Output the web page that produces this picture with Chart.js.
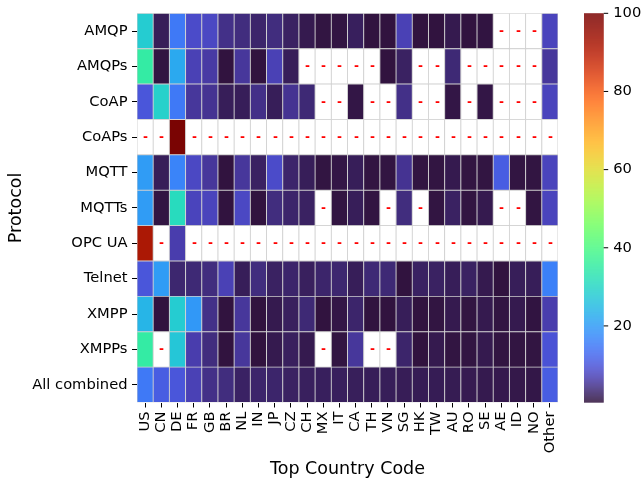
<!DOCTYPE html>
<html lang="en">
<head>
<meta charset="UTF-8">
<title>Protocol by country heatmap</title>
<style>
  body { margin: 0; background: #fff; }
  #wrap { width: 643px; height: 484px; }
</style>
<script src="https://cdn.jsdelivr.net/npm/chart.js"></script>
</head>
<body>
<div id="wrap"><canvas id="heat" width="643" height="484"></canvas></div>
<script>
// categories
const countries = ['US', 'CN', 'DE', 'FR', 'GB', 'BR', 'NL', 'IN', 'JP', 'CZ', 'CH', 'MX', 'IT',
                   'CA', 'TH', 'VN', 'SG', 'HK', 'TW', 'AU', 'RO', 'SE', 'AE', 'ID', 'NO', 'Other'];
const protocols = ['AMQP', 'AMQPs', 'CoAP', 'CoAPs', 'MQTT', 'MQTTs', 'OPC UA', 'Telnet', 'XMPP', 'XMPPs', 'All combined'];

// share per protocol and country (null = no data, shown as "-")
const amqp   = [28, 2, 15, 8.5, 8, 4.5, 4, 3, 4, 2.5, 1.5, 0.8, 0.8, 2.2, 0.6, 0.6, 7, 0.6, 0.6, 1.5, 0.6, 0.7, null, null, null, 7.5];
const amqps  = [35, 0.8, 22, 7, 6, 0.6, 5.5, 0.6, 7, 2, null, null, null, null, null, 0.6, 2.5, null, null, 3.5, null, null, null, null, null, 5.5];
const coap   = [10, 29, 15, 5.5, 5, 2, 2, 4.5, 2, 5, 3.5, null, null, 1, null, null, 4.5, null, null, 1, null, 1, null, null, null, 7.5];
const coaps  = [null, null, 100, null, null, null, null, null, null, null, null, null, null, null, null, null, null, null, null, null, null, null, null, null, null, null];
const mqtt   = [20, 2, 16.5, 8, 5.5, 0.6, 5.5, 2.5, 8.5, 3, 2, 0.8, 1, 2, 0.8, 0.8, 5, 0.8, 0.8, 1.5, 0.8, 0.8, 11, 0.8, 0.8, 7.5];
const mqtts  = [20, 0.8, 31, 7.5, 7.5, 0.6, 8, 0.6, 4, 3, 2.5, null, 0.8, 2, 0.8, null, 4, null, 0.8, 2.5, 0.8, 1.5, null, null, 0.8, 7.5];
const opcua  = [92, null, 6.5, null, null, null, null, null, null, null, null, null, null, null, null, null, null, null, null, null, null, null, null, null, null, null];
const telnet = [10, 20, 3.2, 3.5, 4, 7, 2, 4, 2.5, 3, 2.3, 3, 3.2, 2, 3.5, 3.5, 0.6, 2.5, 2.5, 2, 2.5, 1.5, 0.6, 2, 2, 16];
const xmpp   = [24, 0.6, 28, 19.5, 4.5, 0.6, 5.5, 0.6, 1.5, 2.3, 3.5, 0.6, 1, 3, 0.6, 0.6, 2, 0.6, 0.8, 1.5, 0.8, 1.5, 0.8, 1.5, 0.7, 6.5];
const xmpps  = [35, null, 27, 6.5, 4, 0.6, 5.5, 0.6, 1.5, 2.3, 1.5, null, 0.8, 5.5, null, null, 3, 0.6, 1.5, 0.8, 0.8, 1.5, 0.8, 0.8, 0.8, 9.5];
const allCombined = [15, 11, 10, 7, 4.5, 4, 2.6, 3, 3, 2.5, 2.3, 2.2, 2.2, 2.1, 2, 2, 1.9, 1.8, 1.8, 1.7, 1.6, 1.5, 1.4, 1.2, 1.1, 11];

const rows = [amqp, amqps, coap, coaps, mqtt, mqtts, opcua, telnet, xmpp, xmpps, allCombined];
const cbTicks = [20, 40, 60, 80, 100];
const vMin = 0.4, vMax = 100;

// turbo colormap (polynomial fit, ends pinned to the real colormap)
function turboRaw(t) {
    const r = 0.13572138 + t * (4.61539260 + t * (-42.66032258 + t * (132.13108234 + t * (-152.94239396 + t * 59.28637943))));
    const g = 0.09140261 + t * (2.19418839 + t * (4.84296658 + t * (-14.18503333 + t * (4.27729857 + t * 2.82956604))));
    const b = 0.10667330 + t * (12.64194608 + t * (-60.58204836 + t * (110.36276771 + t * (-89.90310912 + t * 27.34824973))));
    return [r * 255, g * 255, b * 255];
}
function mix(a, b, k) { return a.map((v, i) => v + (b[i] - v) * k); }
function turbo(t) {
    t = Math.min(1, Math.max(0, t));
    let c;
    if (t < 0.04) c = mix([48, 18, 59], turboRaw(0.04), t / 0.04);
    else if (t > 0.92) c = mix(turboRaw(0.92), [122, 4, 3], (t - 0.92) / 0.08);
    else c = turboRaw(t);
    c = c.map(v => Math.round(Math.min(255, Math.max(0, v))));
    return `rgb(${c[0]},${c[1]},${c[2]})`;
}
function colorFor(v) {
    return v === null ? '#ffffff' : turbo((v - vMin) / (vMax - vMin));
}

// one stacked dataset per protocol, bottom row first
const datasets = [];
for (let r = rows.length - 1; r >= 0; r--) {
    datasets.push({
        label: protocols[r],
        data: countries.map(() => 1),
        backgroundColor: rows[r].map(colorFor),
        borderColor: '#d0d0d0',
        borderWidth: 0.8,
        borderSkipped: false,
        categoryPercentage: 1,
        barPercentage: 1
    });
}

const heatExtras = {
    id: 'heatExtras',
    afterDatasetsDraw(chart) {
        const ctx = chart.ctx;
        const xs = chart.scales.x, ys = chart.scales.y;
        ctx.save();
        ctx.fillStyle = '#ff0000';
        ctx.font = 'bold 12px "DejaVu Sans"';
        ctx.textAlign = 'center';
        ctx.textBaseline = 'alphabetic';
        rows.forEach((row, r) => {
            row.forEach((v, c) => {
                if (v !== null) return;
                const px = xs.getPixelForValue(c);
                const py = ys.getPixelForValue(rows.length - 1 - r + 0.5);
                // the hyphen bar sits ~3.3px above the baseline
                ctx.fillText('-', Math.round(px) + 0.5, Math.round(py) + 3.8);
            });
        });
        ctx.restore();
    },
    afterDraw(chart) {
        // colour bar
        const ctx = chart.ctx;
        const cb = chart.scales.cb;
        const left = chart.chartArea.right + 26;
        const w = 19.7;
        const top = cb.getPixelForValue(vMax);
        const bot = cb.getPixelForValue(vMin);
        ctx.save();
        for (let y = top; y < bot; y += 1) {
            const v = cb.getValueForPixel(Math.min(y + 0.5, bot));
            ctx.fillStyle = colorFor(v);
            ctx.fillRect(left, y, w, Math.min(1.2, bot - y));
        }
        ctx.strokeStyle = '#000';
        ctx.lineWidth = 1;
        ctx.fillStyle = '#000';
        ctx.font = '14.7px "DejaVu Sans"';
        ctx.textAlign = 'left';
        ctx.textBaseline = 'middle';
        cbTicks.forEach(t => {
            const py = cb.getPixelForValue(t);
            ctx.beginPath();
            ctx.moveTo(left + w, py);
            ctx.lineTo(left + w + 4.5, py);
            ctx.stroke();
            ctx.fillText(String(t), left + w + 9.5, py);
        });
        ctx.restore();
    }
};

Chart.defaults.font.family = '"DejaVu Sans"';
Chart.defaults.font.size = 14.7;
Chart.defaults.color = '#000';

new Chart(document.getElementById('heat'), {
    type: 'bar',
    data: { labels: countries, datasets: datasets },
    options: {
        responsive: false,
        animation: false,
        layout: { padding: { top: 11.7, right: 85, left: 0, bottom: 0 } },
        plugins: { legend: { display: false }, tooltip: { enabled: false } },
        scales: {
            x: {
                type: 'category',
                stacked: true,
                grid: { display: true, drawOnChartArea: false, offset: false, tickLength: 5, color: '#000', lineWidth: 1 },
                border: { display: false },
                ticks: { minRotation: 90, maxRotation: 90, autoSkip: false, padding: 4 },
                title: { display: true, text: 'Top Country Code', font: { size: 17.5 }, padding: { top: 0, bottom: 4 } },
                afterFit: s => { s.height = 81.5; }
            },
            y: {
                type: 'linear',
                stacked: true,
                min: 0,
                max: protocols.length,
                grid: { display: true, drawOnChartArea: false, tickLength: 5, color: '#000', lineWidth: 1 },
                border: { display: false },
                afterBuildTicks: s => { s.ticks = protocols.map((p, i) => ({ value: i + 0.5 })); },
                ticks: {
                    padding: 4.5,
                    callback: v => protocols[protocols.length - 1 - Math.floor(v)]
                },
                title: { display: true, text: 'Protocol', font: { size: 17.5 }, padding: { top: 6, bottom: 0 } },
                afterFit: s => { s.width = 137; }
            },
            cb: {
                type: 'linear',
                display: false,
                position: 'right',
                min: vMin,
                max: vMax
            }
        }
    },
    plugins: [heatExtras]
});
</script>
</body>
</html>
